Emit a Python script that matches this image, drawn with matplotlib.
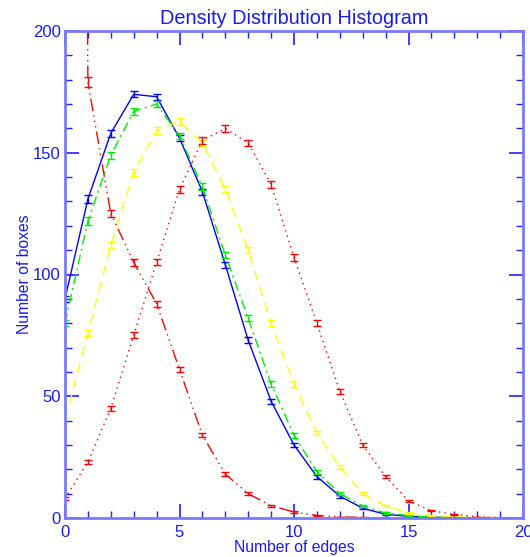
import matplotlib
matplotlib.use('Agg')
import matplotlib.pyplot as plt
import numpy as np

plt.rcParams['font.family'] = ['Liberation Sans', 'DejaVu Sans']

# number of edges
edges = list(range(21))

blue = [90, 131, 158, 174, 173, 156, 134, 104, 73, 48, 30, 17, 9, 4, 1.5, 0.7, 0.3, 0.1, 0, 0, 0]
green = [80, 122, 149, 167, 170, 157, 136, 108, 82, 55, 34, 19, 10, 5, 2, 1, 0.4, 0.2, 0.1, 0, 0]
yellow = [40, 76, 112, 142, 159, 163, 154, 135, 110, 80, 55, 35, 21, 10, 5, 2, 1, 0.5, 0.2, 0.1, 0]
red_dot = [8, 23, 45, 75, 105, 135, 155, 160, 154, 137, 107, 80, 52, 30, 17, 7, 3, 1.5, 0.5, 0.2, 0.1]
red_dash = [1500, 179, 125, 105, 88, 61, 34, 18, 10, 5, 2.5, 1, 0.5, 0.2, 0.1, 0, 0, 0, 0, 0, 0]

blue_err = [1.2, 1.5, 1.5, 1.2, 1.2, 1.2, 1.3, 1.3, 1.3, 1.0, 1.0, 0.8, 0.6, 0.5, 0.3, 0.2, 0.1, 0.1, 0, 0, 0]
green_err = [1.2, 1.5, 1.5, 1.3, 1.3, 1.3, 1.4, 1.4, 1.3, 1.2, 1.0, 0.8, 0.6, 0.5, 0.3, 0.2, 0.1, 0.1, 0, 0, 0]
yellow_err = [1.0, 1.2, 1.3, 1.4, 1.4, 1.4, 1.4, 1.3, 1.3, 1.2, 1.1, 0.9, 0.7, 0.5, 0.4, 0.3, 0.2, 0.1, 0, 0, 0]
red_dot_err = [0.5, 0.8, 1.0, 1.2, 1.3, 1.4, 1.4, 1.4, 1.4, 1.4, 1.3, 1.2, 1.0, 0.8, 0.6, 0.4, 0.3, 0.2, 0.1, 0, 0]
red_dash_err = [2.0, 2.0, 1.5, 1.4, 1.3, 1.2, 0.9, 0.7, 0.5, 0.4, 0.3, 0.2, 0.1, 0.1, 0, 0, 0, 0, 0, 0, 0]

text_c = '#1a1af0'
axis_c = '#7a7aff'

fig = plt.figure(figsize=(5.3, 5.57), dpi=100)
ax = fig.add_axes([65 / 530, 39 / 557, 458 / 530, 487 / 557])

series = [
    (blue, blue_err, '#0000ff', '-'),
    (green, green_err, '#00ee00', (0, (7, 3, 1.5, 3))),
    (yellow, yellow_err, '#ffff00', (0, (7, 5))),
    (red_dot, red_dot_err, '#ff0000', (0, (1, 3))),
    (red_dash, red_dash_err, '#ff0000', (0, (9, 3, 1, 3, 1, 3, 1, 3))),
]
for y, e, c, ls in series:
    ax.plot(edges, y, color=c, linestyle=ls, linewidth=1.0)
    ax.errorbar(edges, y, yerr=e, fmt='none', ecolor=c, elinewidth=1.0,
                capsize=3, capthick=1.0)

ax.set_xlim(0, 20)
ax.set_ylim(0, 200)
ax.set_xticks([0, 5, 10, 15, 20])
ax.set_xticks(range(21), minor=True)
ax.set_yticks([0, 50, 100, 150, 200])
ax.set_yticks(range(0, 201, 10), minor=True)
ax.tick_params(which='both', direction='in', top=True, right=True,
               color='#2020ff', labelcolor=text_c, labelsize=12)
ax.tick_params(which='major', length=10, width=1.2)
ax.tick_params(which='minor', length=5, width=1.0)
ax.tick_params(axis='x', pad=5)
ax.tick_params(axis='y', pad=3)
for sp in ax.spines.values():
    sp.set_color(axis_c)
    sp.set_linewidth(2)

ax.set_title('Density Distribution Histogram', color=text_c, fontsize=14.3, pad=5)
ax.set_xlabel('Number of edges', color=text_c, fontsize=11.3, labelpad=0)
ax.set_ylabel('Number of boxes', color=text_c, fontsize=11.3, labelpad=1)

fig.savefig('out.png', dpi=100)
